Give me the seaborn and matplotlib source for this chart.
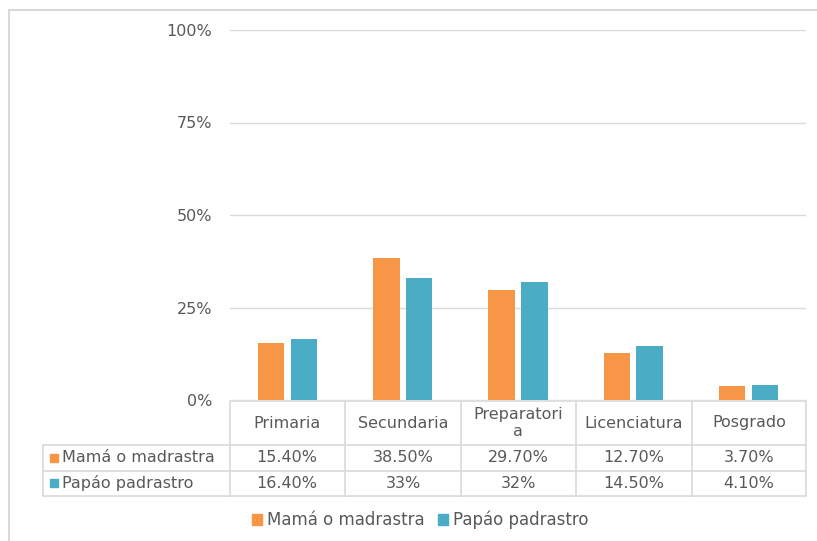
import pandas as pd
import seaborn as sns
import matplotlib.pyplot as plt
from matplotlib.lines import Line2D
from matplotlib.patches import Patch, Rectangle

categories = ['Primaria', 'Secundaria', 'Preparatoria', 'Licenciatura', 'Posgrado']
header_labels = ['Primaria', 'Secundaria', 'Preparatori\na', 'Licenciatura', 'Posgrado']
series_names = ['Mamá o madrastra', 'Papáo padrastro']
mama = [15.4, 38.5, 29.7, 12.7, 3.7]
papa = [16.4, 33.0, 32.0, 14.5, 4.1]
mama_labels = ['15.40%', '38.50%', '29.70%', '12.70%', '3.70%']
papa_labels = ['16.40%', '33%', '32%', '14.50%', '4.10%']
colors = ['#F79646', '#4BACC6']

W, H = 817, 541
GRID = '#D9D9D9'
TXT = '#595959'


def fx(x):
    return x / W


def fy(y):
    return 1 - y / H


df = pd.DataFrame({
    'cat': categories * 2,
    'serie': [series_names[0]] * 5 + [series_names[1]] * 5,
    'val': mama + papa,
})

sns.set_style('white')
plt.rcParams['font.family'] = ['DejaVu Sans']
fig = plt.figure(figsize=(W / 100, H / 100), dpi=100)
ax = fig.add_axes([fx(230), fy(400), fx(806) - fx(230), fy(30) - fy(400)])

sns.barplot(data=df, x='cat', y='val', hue='serie', palette=colors,
            width=0.57, gap=0.2, ax=ax, legend=False, saturation=1,
            edgecolor='none')

ax.set_ylim(0, 100)
ax.set_xlim(-0.5, 4.5)
ax.set_yticks([0, 25, 50, 75, 100])
ax.set_yticklabels(['0%', '25%', '50%', '75%', '100%'], fontsize=11.5, color=TXT)
ax.tick_params(axis='y', length=0, pad=13)
ax.set_xticks([])
ax.set_xlabel('')
ax.set_ylabel('')
for s in ax.spines.values():
    s.set_visible(False)
ax.yaxis.grid(True, color=GRID, linewidth=1)
ax.set_axisbelow(True)

# data table below the chart
def hline(y, x0, x1):
    fig.add_artist(Line2D([fx(x0), fx(x1)], [fy(y), fy(y)], color=GRID, lw=1.2))


def vline(x, y0, y1):
    fig.add_artist(Line2D([fx(x), fx(x)], [fy(y0), fy(y1)], color=GRID, lw=1.2))


hline(401, 230, 806)
for y in [445, 471, 496]:
    hline(y, 43, 806)
vline(43, 445, 496)
for x in [230, 345, 461, 576, 692, 806]:
    vline(x, 401, 496)

col_centers = [287, 403, 518, 634, 749]
for i, c in enumerate(col_centers):
    fig.text(fx(c), fy(423), header_labels[i], ha='center', va='center',
             fontsize=11.5, color=TXT, linespacing=1.15)
    fig.text(fx(c), fy(458), mama_labels[i], ha='center', va='center',
             fontsize=11.5, color=TXT)
    fig.text(fx(c), fy(483), papa_labels[i], ha='center', va='center',
             fontsize=11.5, color=TXT)

for row_y, name, col in zip([458, 483], series_names, colors):
    fig.add_artist(Rectangle((fx(50), fy(row_y + 4)), fx(8), 8 / H, color=col))
    fig.text(fx(62), fy(row_y), name, ha='left', va='center', fontsize=11.5, color=TXT)

# chart border (partly cropped)
fig.add_artist(Line2D([fx(9), fx(817)], [fy(10), fy(10)], color=GRID, lw=1.5))
fig.add_artist(Line2D([fx(9), fx(9)], [fy(10), fy(541)], color=GRID, lw=1.5))

handles = [Patch(color=c) for c in colors]
leg = fig.legend(handles, series_names, loc='center', bbox_to_anchor=(fx(420), fy(520)),
                 ncol=2, frameon=False, fontsize=12, handlelength=0.6, handleheight=0.6,
                 handletextpad=0.3, columnspacing=0.8)
for t in leg.get_texts():
    t.set_color(TXT)

fig.savefig('out.png', dpi=100)
